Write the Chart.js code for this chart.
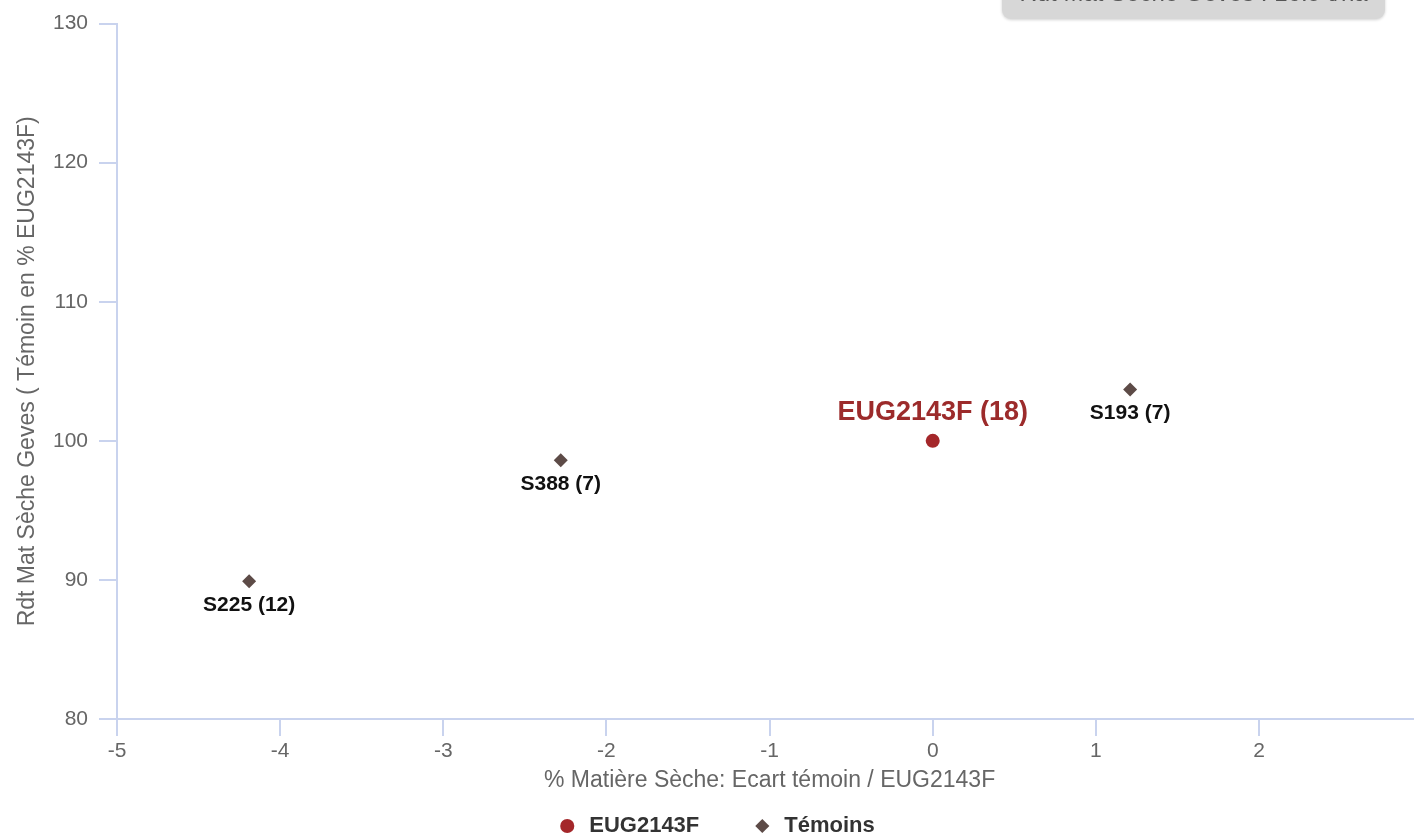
<!DOCTYPE html>
<html>
<head>
<meta charset="utf-8">
<script src="https://cdn.jsdelivr.net/npm/chart.js@4/dist/chart.umd.min.js"></script>
<style>
  html, body { margin: 0; padding: 0; width: 1414px; height: 835px; overflow: hidden; background: #fff; }
  #wrap { position: relative; width: 1414px; height: 835px; overflow: hidden; }
  canvas { position: absolute; left: 0; top: 0; }
  #info { position: absolute; left: 1002px; top: -30px; width: 383px; height: 49px;
          background: #d7d7d7; border-radius: 9px; box-shadow: 0 1px 3px rgba(0,0,0,0.18);
          font-family: "Liberation Sans", Arial, sans-serif; font-size: 24px; color: #555;
          text-align: center; line-height: 30px; box-sizing: border-box; padding-top: 8px; overflow: hidden; }
</style>
</head>
<body>
<div id="wrap">
  <canvas id="c" width="1431" height="847" style="width:1431px;height:847px"></canvas>
  <div id="info">Rdt Mat Sèche Geves : 16.9 t/ha</div>
</div>
<script>
// ---- data ----
const refName = 'EUG2143F';
const refCount = [18];
const refX = [0];
const refY = [100];

const temoinNames = ['S225', 'S388', 'S193'];
const temoinCounts = [12, 7, 7];
const temoinX = [-4.19, -2.28, 1.21];
const temoinY = [89.9, 98.6, 103.7];

const xTitle = '% Matière Sèche: Ecart témoin / EUG2143F';
const yTitle = 'Rdt Mat Sèche Geves ( Témoin en % EUG2143F)';
const legendNames = ['EUG2143F', 'Témoins'];
const xMin = -5, xMax = 3, yMin = 80, yMax = 130;

// ---- build ----
const FONT = '"Liberation Sans", Arial, sans-serif';
const AXIS = '#c9d3ee';

const refPoints = refX.map((x, i) => ({x, y: refY[i], label: refName + ' (' + refCount[i] + ')'}));
const temPoints = temoinX.map((x, i) => ({x, y: temoinY[i], label: temoinNames[i] + ' (' + temoinCounts[i] + ')'}));

const labelPlugin = {
  id: 'pointLabels',
  afterDatasetsDraw(chart) {
    const ctx = chart.ctx;
    chart.data.datasets.forEach((ds, di) => {
      const meta = chart.getDatasetMeta(di);
      meta.data.forEach((el, i) => {
        const p = ds.data[i];
        ctx.save();
        ctx.textAlign = 'center';
        ctx.textBaseline = 'middle';
        if (di === 0) {
          ctx.font = 'bold 27px ' + FONT;
          ctx.fillStyle = '#9c2b2b';
          ctx.fillText(p.label, el.x, el.y - 28);
        } else {
          ctx.font = 'bold 21px ' + FONT;
          ctx.fillStyle = '#111111';
          ctx.fillText(p.label, el.x, el.y + 24);
        }
        ctx.restore();
      });
    });
  }
};

new Chart(document.getElementById('c'), {
  type: 'scatter',
  data: {
    datasets: [
      { label: legendNames[0], data: refPoints, pointStyle: 'circle', pointRadius: 7, pointHoverRadius: 7,
        backgroundColor: '#a4272a', borderColor: '#a4272a', borderWidth: 0 },
      { label: legendNames[1], data: temPoints, pointStyle: 'rectRot', pointRadius: 7, pointHoverRadius: 7,
        backgroundColor: '#5d4b47', borderColor: '#5d4b47', borderWidth: 0 }
    ]
  },
  options: {
    responsive: false,
    animation: false,
    devicePixelRatio: 1,
    layout: { padding: { left: 0, right: 0, top: 21, bottom: 0 } },
    plugins: {
      tooltip: { enabled: false },
      legend: {
        position: 'bottom',
        labels: {
          usePointStyle: true,
          boxWidth: 22, boxHeight: 10,
          padding: 52,
          color: '#333333',
          font: { family: FONT, size: 22, weight: 'bold' }
        }
      }
    },
    scales: {
      x: {
        type: 'linear', min: xMin, max: xMax,
        afterFit(s) { s.height = 44; },
        border: { display: true, color: AXIS, width: 2 },
        grid: { display: true, drawOnChartArea: false, drawTicks: true, tickLength: 17, color: AXIS, lineWidth: 2 },
        ticks: { stepSize: 1, padding: 3, color: '#666666', font: { family: FONT, size: 21 }, maxRotation: 0 },
        title: { display: true, text: xTitle, color: '#666666', font: { family: FONT, size: 23 }, padding: { top: 0, bottom: -31 } }
      },
      y: {
        type: 'linear', min: yMin, max: yMax, position: 'left',
        afterFit(s) { s.width = 117; },
        border: { display: true, color: AXIS, width: 2 },
        grid: { display: true, drawOnChartArea: false, drawTicks: true, tickLength: 18, color: AXIS, lineWidth: 2 },
        ticks: { stepSize: 10, padding: 11, color: '#666666', font: { family: FONT, size: 21 } },
        title: { display: true, text: yTitle, color: '#666666', font: { family: FONT, size: 23 }, padding: { top: 14, bottom: 0 } }
      },
      y2: {
        type: 'linear', position: 'right', display: true,
        afterFit(s) { s.width = 3; },
        border: { display: false },
        grid: { display: false },
        ticks: { display: false }
      }
    }
  },
  plugins: [labelPlugin]
});
</script>
</body>
</html>
